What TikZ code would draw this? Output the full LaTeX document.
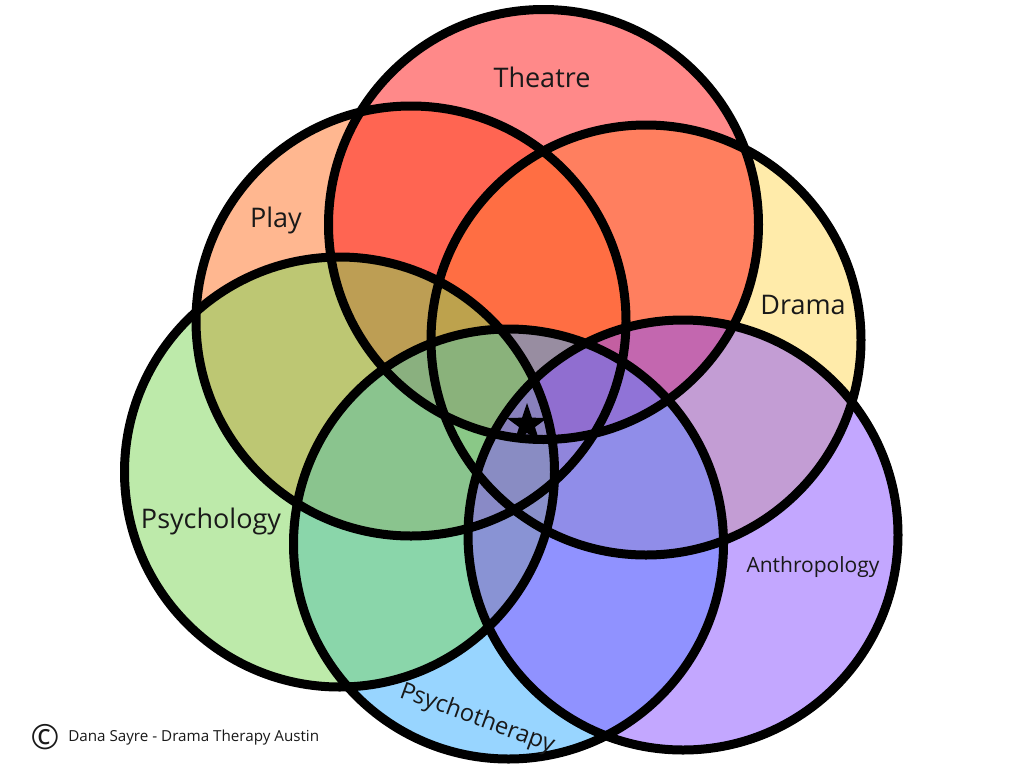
\documentclass[tikz,border=0pt]{standalone}
\usepackage{fontspec}
\setmainfont{Open Sans}
\definecolor{cT}{RGB}{255,21,21}
\definecolor{cP}{RGB}{255,113,35}
\definecolor{cD}{RGB}{255,217,87}
\definecolor{cY}{RGB}{125,215,87}
\definecolor{cA}{RGB}{137,81,255}
\definecolor{cR}{RGB}{51,173,255}
\definecolor{txt}{RGB}{25,25,25}
\tikzset{
  disc/.style={fill opacity=0.5, draw=none},
  rim/.style={draw=black, line width=6.75pt},
  lbl/.style={text=txt, inner sep=0pt, font=\fontsize{20.25}{24}\selectfont},
}
\begin{document}
\begin{tikzpicture}[x=0.75pt,y=-0.75pt]
\useasboundingbox (0,0) rectangle (1024,768);
\fill[white] (0,0) rectangle (1024,768);
\coordinate (cenP) at (411,321);
\coordinate (cenD) at (646,340);
\coordinate (cenT) at (543.5,224.5);
\coordinate (cenR) at (508.5,544);
\coordinate (cenY) at (339.5,472);
\coordinate (cenA) at (683,535);
\def\rr{161.25pt}
\fill[disc, cP] (cenP) circle[radius=\rr];
\fill[disc, cD] (cenD) circle[radius=\rr];
\fill[disc, cT] (cenT) circle[radius=\rr];
\fill[disc, cR] (cenR) circle[radius=\rr];
\fill[disc, cY] (cenY) circle[radius=\rr];
\fill[disc, cA] (cenA) circle[radius=\rr];
\foreach \c in {cenP,cenD,cenT,cenR,cenY,cenA}
  \draw[rim] (\c) circle[radius=\rr];
\node[lbl] (lT) at (542,77) {Theatre};
\node[lbl] (lP) at (276,220) {Play};
\node[lbl] (lD) at (803,305) {Drama};
\node[lbl] (lY) at (211,521) {Psychology};
\node[lbl, font=\fontsize{15.75}{19}\selectfont] (lA) at (813,567) {Anthropology};
\node[lbl, font=\fontsize{17.8}{21}\selectfont, rotate=-20] (lR) at (477,719) {Psychotherapy};
\coordinate (st) at (527,424.5);
\fill[black, shift={(st)}] (-90:21.5) \foreach \k in {0,...,4}{ -- (-90+72*\k:21.5) -- (-54+72*\k:8.4)} -- cycle;
\node[lbl, font=\fontsize{26}{28}\selectfont] (cp) at (45,737) {©};
\node[lbl, anchor=west, font=\fontsize{11.4}{14}\selectfont] (cr) at (68,738) {Dana Sayre - Drama Therapy Austin};
\end{tikzpicture}
\end{document}
